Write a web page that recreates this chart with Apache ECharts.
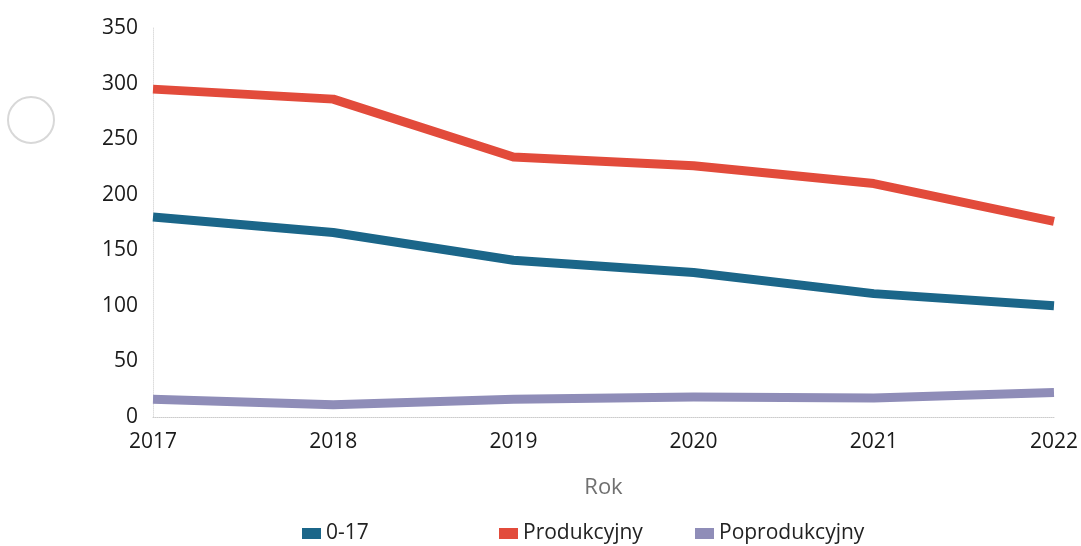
<!DOCTYPE html>
<html><head><meta charset="utf-8">
<script src="https://cdn.jsdelivr.net/npm/echarts@6/dist/echarts.min.js"></script>
<style>html,body{margin:0;padding:0;background:#fff}#c{width:1081px;height:546px}</style>
</head><body><div id="c"></div>
<script>
var years = ['2017','2018','2019','2020','2021','2022'];
var s017 = [180, 166, 141, 130, 111, 100];
var sProd = [295, 286, 234, 226, 210, 176];
var sPoprod = [16, 11, 16, 18, 17, 22];
var names = ['0-17','Produkcyjny','Poprodukcyjny'];
var colors = ['#1b6689','#e24b3b','#8f8db8'];
var font = '"Open Sans", "Noto Sans", sans-serif';
var chart = echarts.init(document.getElementById('c'));
function mkLegend(i, left){
  return {data:[names[i]], left:left, top:518, itemWidth:19, itemHeight:11, icon:'rect', itemGap:7,
    textStyle:{fontFamily:font, fontSize:21, color:'#222', padding:[0,0,0,0]}};
}
chart.setOption({
  animation:false,
  color:colors,
  graphic:[{type:'circle', shape:{cx:31, cy:120, r:23}, style:{fill:'#fff', stroke:'#d8d8d8', lineWidth:2}}],
  grid:{left:153, right:27, top:28, bottom:129},
  legend:[mkLegend(0,297), mkLegend(1,494), mkLegend(2,690)],
  xAxis:{type:'category', data:years, boundaryGap:false,
    name:'Rok', nameLocation:'middle', nameGap:60,
    nameTextStyle:{fontFamily:font, fontSize:22, color:'#707070'},
    axisLine:{lineStyle:{color:'#ccc', type:'dotted'}}, axisTick:{show:false},
    axisLabel:{fontFamily:font, fontSize:21, color:'#1a1a1a', margin:15}},
  yAxis:{type:'value', min:0, max:350, interval:50,
    axisLine:{show:true, lineStyle:{color:'#ddd', type:'dotted'}}, axisTick:{show:false},
    splitLine:{show:false},
    axisLabel:{fontFamily:font, fontSize:21, color:'#1a1a1a', margin:15}},
  series:[
    {name:names[0], type:'line', data:s017, showSymbol:false, lineStyle:{width:9, cap:'butt', join:'round'}, z:3},
    {name:names[1], type:'line', data:sProd, showSymbol:false, lineStyle:{width:9, cap:'butt', join:'round'}, z:3},
    {name:names[2], type:'line', data:sPoprod, showSymbol:false, lineStyle:{width:9, cap:'butt', join:'round'}, z:3}
  ]
});
</script></body></html>
